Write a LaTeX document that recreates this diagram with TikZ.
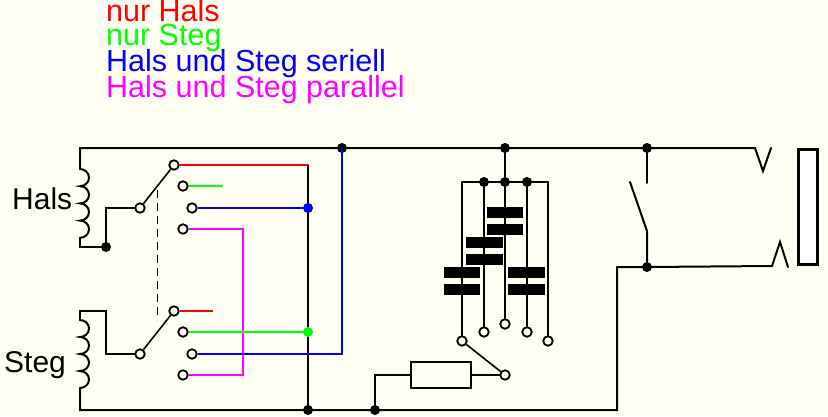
\documentclass[tikz,border=0pt]{standalone}
\usepackage{fontspec}
\setmainfont{Liberation Sans}
\definecolor{paper}{HTML}{FFFFF3}
\definecolor{cred}{HTML}{FF0000}
\definecolor{cgreen}{HTML}{00FF00}
\definecolor{cblue}{HTML}{0000FF}
\definecolor{cmag}{HTML}{FF00FF}
\tikzset{
  wire/.style={line width=2pt,line cap=round,line join=miter},
  pin/.style={circle,draw=black,line width=1.8pt,fill=paper,minimum size=9.5pt,inner sep=0pt},
  dot/.style={circle,fill=black,minimum size=10pt,inner sep=0pt},
  plate/.style={fill=black,draw=none,minimum height=11.5pt,inner sep=0pt},
  lab/.style={anchor=base west,inner sep=0pt,font=\fontsize{30}{31}\selectfont},
  leg/.style={anchor=base west,inner sep=0pt,font=\fontsize{30.5}{31}\selectfont},
}
\begin{document}
\begin{tikzpicture}[x=1pt,y=-1pt]
\useasboundingbox (0,0) rectangle (828,416);
\fill[paper] (0,0) rectangle (828,416);
% legend
\node[leg,text=cred] (t1) at (106,21) {nur Hals};
\node[leg,text=cgreen] (t2) at (106,45.5) {nur Steg};
\node[leg,text=cblue] (t3) at (106,71) {Hals und Steg seriell};
\node[leg,text=cmag] (t4) at (106,97) {Hals und Steg parallel};
\node[lab] (tH) at (12,209.5) {Hals};
\node[lab] (tS) at (4,372) {Steg};
% points
\coordinate (TL) at (80,148);
\coordinate (BL) at (80,410);
\coordinate (TR) at (755,148);
\coordinate (hc1) at (80,169);
\coordinate (hc2) at (80,238);
\coordinate (sc1) at (80,320);
\coordinate (sc2) at (80,388);
\coordinate (hk) at (80,247);
\coordinate (sk) at (80,311);
\coordinate (hup) at (106,208);
\coordinate (sup) at (106,311);
\coordinate (sdn) at (106,354);
\coordinate (m1) at (243,229);
\coordinate (m2) at (243,375);
\coordinate (redend) at (308,165);
\coordinate (g1e) at (223,186);
\coordinate (r2e) at (213,311);
\coordinate (bl1) at (342,354);
\coordinate (dh1) at (157,190);
\coordinate (dh2) at (157,320);
\coordinate (hcom) at (140,208);
\coordinate (scom) at (140,354);
% junctions
\node[dot] (dtop) at (342,148) {};
\node[dot] (dcap) at (505,148) {};
\node[dot] (djack) at (647,148) {};
\node[dot] (dh) at (106,247) {};
\node[dot] (db1) at (308,410) {};
\node[dot] (db2) at (375,410) {};
\node[dot] (dlow) at (647,267) {};
\coordinate (BR) at (617,410);
\coordinate (LR) at (617,267);
% wires
\draw[wire] (sc2) -- (BL) -- (db1.center) -- (db2.center) -- (BR) -- (LR) -- (dlow.center) -- (772,266) coordinate (k0) -- (780,242) -- (788,267);
\draw[wire] (hc1) -- (TL) -- (TR) -- (763,171) -- (771,148);
\draw[wire] (hc2) -- (hk) -- (dh.center) -- (hup) -- (hcom);
\draw[wire] (sc1) -- (sk) -- (sup) -- (sdn) -- (scom);
% coils
\draw[wire] (hc1) arc[start angle=-90,end angle=90,x radius=9,y radius=8.6]
  arc[start angle=-90,end angle=90,x radius=9,y radius=8.6]
  arc[start angle=-90,end angle=90,x radius=9,y radius=8.6]
  arc[start angle=-90,end angle=90,x radius=9,y radius=8.6];
\draw[wire] (sc1) arc[start angle=-90,end angle=90,x radius=9,y radius=8.5]
  arc[start angle=-90,end angle=90,x radius=9,y radius=8.5]
  arc[start angle=-90,end angle=90,x radius=9,y radius=8.5]
  arc[start angle=-90,end angle=90,x radius=9,y radius=8.5];
\draw[line width=1pt,dash pattern=on 8pt off 5pt] (dh1) -- (dh2);
\draw[wire] (redend) -- (db1.center);
% contacts
\node[pin] (ha) at (174,165) {};
\node[pin] (hb) at (183,186) {};
\node[pin] (hd) at (192,208) {};
\node[pin] (he) at (183,229) {};
\node[pin] (sa) at (174,311) {};
\node[pin] (sb) at (183,332) {};
\node[pin] (sd) at (192,354) {};
\node[pin] (se) at (183,375) {};
\node[pin] (hm) at (hcom) {};
\node[pin] (sm) at (scom) {};
% coloured
\draw[wire,line cap=butt,cmag] (he) -- (m1) -- (m2) -- (se);
\draw[wire,line cap=butt,cred] (ha) -- (redend);
\draw[wire,line cap=butt,cred] (sa) -- (r2e);
\draw[wire,line cap=butt,cgreen] (hb) -- (g1e);
\node[dot,fill=cblue] (dblue) at (308,208) {};
\node[dot,fill=cgreen] (dgreen) at (308,332) {};
\draw[wire,line cap=butt,cblue] (hd) -- (dblue);
\draw[wire,line cap=butt,cgreen] (sb) -- (dgreen);
\draw[wire,line cap=butt,cblue] (sd) -- (bl1) -- (dtop.center);
\draw[line width=1.6pt] (hm) -- (ha);
\draw[line width=1.6pt] (sm) -- (sa);
% capacitor block
\coordinate (busL) at (462,182);
\coordinate (busR) at (548,182);
\node[dot] (d1) at (484,182) {};
\node[dot] (d2) at (505,182) {};
\node[dot] (d3) at (527,182) {};
\draw[wire] (dcap.center) -- (d2.center);
\draw[wire] (busL) -- (busR);
\node[pin] (p1) at (462,341) {};
\node[pin] (p2) at (484,332) {};
\node[pin] (p3) at (505,324) {};
\node[pin] (p4) at (527,332) {};
\node[pin] (p5) at (548,341) {};
\draw[wire] (busL) -- (p1);
\draw[wire] (d1) -- (p2);
\draw[wire] (d2) -- (p3);
\draw[wire] (d3) -- (p4);
\draw[wire] (busR) -- (p5);
\node[plate,minimum width=36pt] (c1a) at (462,272.5) {};
\node[plate,minimum width=36pt] (c1b) at (462,289.5) {};
\node[plate,minimum width=37pt] (c2a) at (484,242.5) {};
\node[plate,minimum width=37pt] (c2b) at (484,259.5) {};
\node[plate,minimum width=36pt] (c3a) at (505,212.5) {};
\node[plate,minimum width=36pt] (c3b) at (505,229.5) {};
\node[plate,minimum width=37pt] (c4a) at (526.5,272.5) {};
\node[plate,minimum width=37pt] (c4b) at (526.5,289.5) {};
% rotary and resistor
\node[pin] (rsw) at (505,375) {};
\draw[line width=1.6pt] (p1) -- (rsw);
\node[draw=black,line width=2pt,fill=paper,minimum width=60pt,minimum height=26pt,inner sep=0pt] (res) at (441,375) {};
\coordinate (rc) at (375,375);
\draw[wire] (res) -- (rsw);
\draw[wire] (res) -- (rc) -- (db2.center);
% jack
\coordinate (j1) at (647,183);
\coordinate (j2) at (630,182);
\coordinate (j3) at (647,231);
\draw[wire] (djack.center) -- (j1);
\draw[wire] (j2) -- (j3) -- (dlow.center);
\node[draw=black,line width=3pt,fill=white,minimum width=19.5pt,minimum height=115pt,inner sep=0pt] (plug) at (808,207) {};
\end{tikzpicture}
\end{document}
